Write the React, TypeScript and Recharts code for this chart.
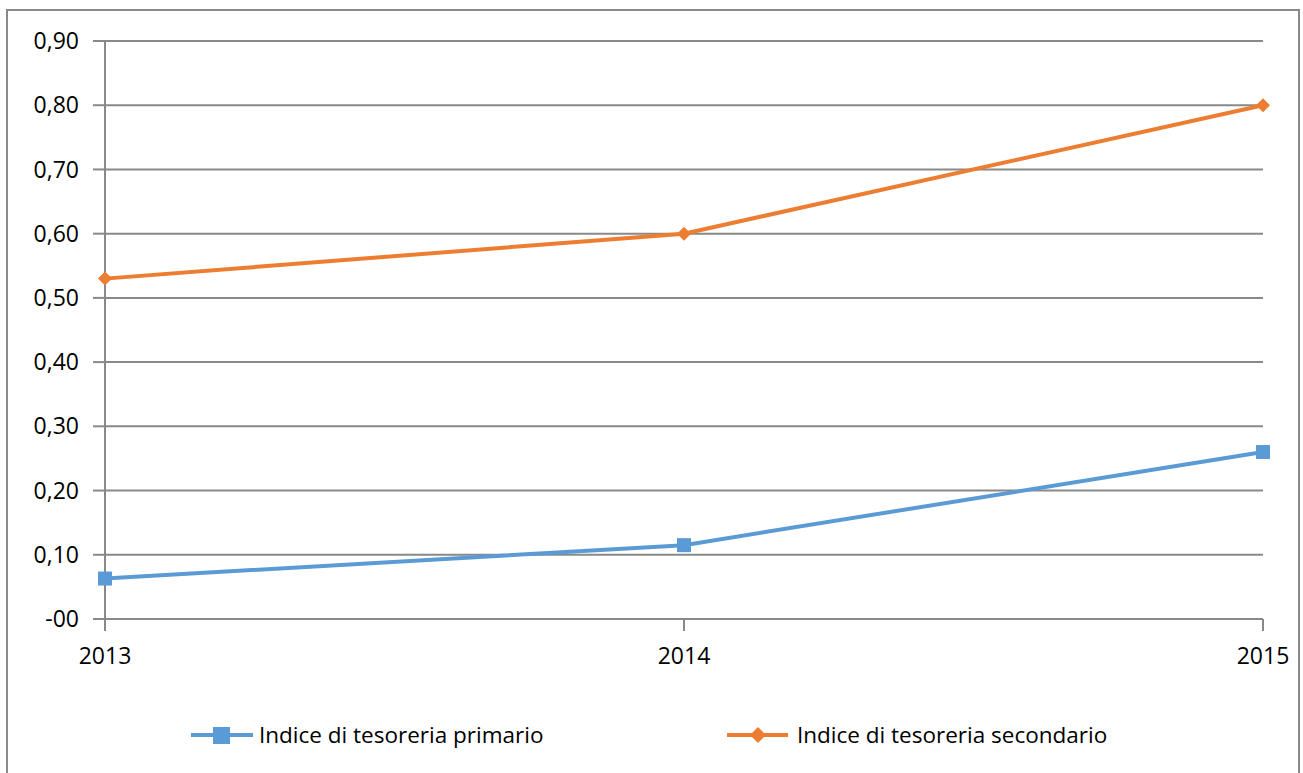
import React from 'react';
import { LineChart, Line, XAxis, YAxis, CartesianGrid, Legend } from 'recharts';

const YEARS = ['2013', '2014', '2015'];
const PRIMARIO = [0.063, 0.115, 0.26];
const SECONDARIO = [0.53, 0.6, 0.8];
const Y_TICKS = [0, 0.1, 0.2, 0.3, 0.4, 0.5, 0.6, 0.7, 0.8, 0.9];

const BLUE = '#5B9BD5';
const ORANGE = '#ED7D31';
const GRID = '#898989';
const FONT = "'Open Sans', 'Noto Sans', sans-serif";

const data = YEARS.map((year, i) => ({
  year,
  primario: PRIMARIO[i],
  secondario: SECONDARIO[i],
}));

const fmt = (v: number) => (v === 0 ? '-00' : v.toFixed(2).replace('.', ','));

const SquareDot = (props: any) => {
  const { cx, cy } = props;
  if (cx == null || cy == null) return null;
  return <rect key={`sq-${cx}`} x={cx - 7} y={cy - 7} width={14} height={14} fill={BLUE} />;
};

const DiamondDot = (props: any) => {
  const { cx, cy } = props;
  if (cx == null || cy == null) return null;
  return (
    <polygon
      key={`dm-${cx}`}
      points={`${cx},${cy - 7} ${cx + 7},${cy} ${cx},${cy + 7} ${cx - 7},${cy}`}
      fill={ORANGE}
    />
  );
};

// legend drawn by hand so it sits where the original one is
const LegendContent = () => (
  <div style={{ position: 'relative', height: 114, fontFamily: FONT, fontSize: 22.5, color: '#000' }}>
    <div style={{ position: 'absolute', left: 166, top: 60, display: 'flex', alignItems: 'center' }}>
      <svg width={62} height={20}>
        <line x1={0} y1={10} x2={62} y2={10} stroke={BLUE} strokeWidth={4} />
        <rect x={22} y={2} width={17} height={17} fill={BLUE} />
      </svg>
      <span style={{ marginLeft: 6 }}>Indice di tesoreria primario</span>
    </div>
    <div style={{ position: 'absolute', left: 702, top: 60, display: 'flex', alignItems: 'center' }}>
      <svg width={61} height={20}>
        <line x1={0} y1={10} x2={61} y2={10} stroke={ORANGE} strokeWidth={4} />
        <polygon points="31,2 39,10 31,18 23,10" fill={ORANGE} />
      </svg>
      <span style={{ marginLeft: 9 }}>Indice di tesoreria secondario</span>
    </div>
  </div>
);

export default function App() {
  return (
    <div style={{ position: 'absolute', left: 0, top: 0, width: 1303, height: 773, background: '#fff', overflow: 'hidden' }}>
      <div
        style={{
          position: 'absolute',
          left: 6,
          top: 9,
          width: 1294,
          height: 800,
          border: `2px solid ${GRID}`,
          boxSizing: 'border-box',
        }}
      />
      <div style={{ position: 'absolute', left: 0, top: 0 }}>
        <LineChart width={1303} height={773} data={data} margin={{ top: 41, right: 40, left: 25, bottom: 0 }}>
          <CartesianGrid vertical={false} stroke={GRID} strokeWidth={2} />
          <XAxis
            dataKey="year"
            stroke={GRID}
            strokeWidth={2}
            tickSize={12}
            tickMargin={17}
            height={40}
            tick={{ fill: '#000', fontSize: 23, fontFamily: FONT }}
          />
          <YAxis
            domain={[0, 0.9]}
            ticks={Y_TICKS}
            tickFormatter={fmt}
            width={80}
            stroke={GRID}
            strokeWidth={2}
            tickSize={12}
            tickMargin={14}
            tick={{ fill: '#000', fontSize: 23, fontFamily: FONT }}
          />
          <Legend verticalAlign="bottom" height={114} content={<LegendContent />} />
          <Line
            dataKey="primario"
            name="Indice di tesoreria primario"
            stroke={BLUE}
            strokeWidth={4}
            dot={SquareDot}
            activeDot={false}
            isAnimationActive={false}
          />
          <Line
            dataKey="secondario"
            name="Indice di tesoreria secondario"
            stroke={ORANGE}
            strokeWidth={4}
            dot={DiamondDot}
            activeDot={false}
            isAnimationActive={false}
          />
        </LineChart>
      </div>
    </div>
  );
}
